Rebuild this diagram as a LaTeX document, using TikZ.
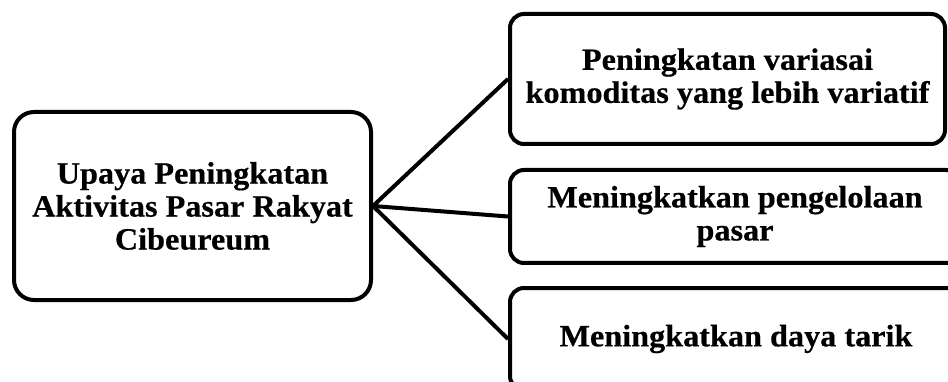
\documentclass[tikz,border=0pt]{standalone}
\usepackage{fontspec}
\setmainfont{Liberation Serif}[FakeBold=0.5,FakeStretch=1.04]
\usetikzlibrary{shadows}
\tikzset{
  blk/.style={draw,rectangle,line width=4pt,align=center,fill=white,
    font=\fontsize{31}{33}\selectfont\bfseries,
    drop shadow={shadow xshift=1.5pt,shadow yshift=-1.5pt,opacity=.25}},
  mainblk/.style={blk,rounded corners=20pt,minimum width=357pt,minimum height=188pt},
  itemblk/.style={blk,rounded corners=14pt,anchor=west,inner sep=0pt},
  conn/.style={line width=4pt}
}

\begin{document}
\begin{tikzpicture}[x=1pt,y=-1pt]
  \useasboundingbox (0,0) rectangle (948,382);
  \node[mainblk] (upaya) at (192.5,206) {Upaya Peningkatan\\Aktivitas Pasar Rakyat\\Cibeureum};
  \node[itemblk, minimum width=435pt, minimum height=130pt] (variasi) at (508,79) {Peningkatan variasai\\komoditas yang lebih variatif};
  \node[itemblk, minimum width=450pt, minimum height=93pt] (kelola) at (508,216.5) {Meningkatkan pengelolaan\\pasar};
  \node[itemblk, minimum width=452pt, minimum height=102pt] (tarik) at (508,339) {Meningkatkan daya tarik};

  \draw[conn] (upaya.east) -- (variasi.west);
  \draw[conn] (upaya.east) -- (kelola.west);
  \draw[conn] (upaya.east) -- (tarik.west);
\end{tikzpicture}
\end{document}
